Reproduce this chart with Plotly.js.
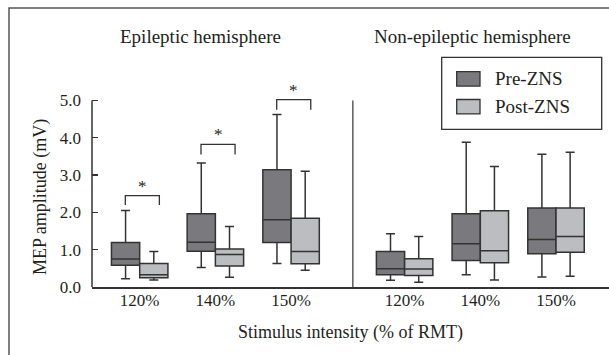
<!DOCTYPE html>
<html><head><meta charset="utf-8">
<script src="https://cdn.plot.ly/plotly-3.0.1.min.js"></script>
<style>html,body{margin:0;padding:0;background:#fff}#chart{width:609px;height:355px}</style>
</head><body><div id="chart"></div><script>
// ---- data ----
const hemispheres = ['Epileptic hemisphere', 'Non-epileptic hemisphere'];
const categories = ['120%', '140%', '150%'];
const seriesNames = ['Pre-ZNS', 'Post-ZNS'];
// order: epileptic 120,140,150 then non-epileptic 120,140,150
const preLower  = [0.22, 0.52, 0.63, 0.18, 0.33, 0.27];
const preQ1     = [0.58, 0.96, 1.19, 0.33, 0.71, 0.89];
const preMedian = [0.75, 1.20, 1.80, 0.49, 1.16, 1.27];
const preQ3     = [1.19, 1.96, 3.14, 0.95, 1.96, 2.12];
const preUpper  = [2.05, 3.32, 4.62, 1.43, 3.88, 3.56];
const postLower  = [0.19, 0.26, 0.45, 0.13, 0.19, 0.29];
const postQ1     = [0.25, 0.56, 0.62, 0.31, 0.65, 0.93];
const postMedian = [0.33, 0.87, 0.95, 0.48, 0.97, 1.35];
const postQ3     = [0.63, 1.02, 1.84, 0.76, 2.04, 2.12];
const postUpper  = [0.95, 1.62, 3.10, 1.35, 3.23, 3.61];
// significance brackets (epileptic hemisphere)
const sigCategories = ['120%', '140%', '150%'];
const sigTop    = [2.45, 3.82, 5.02];
const sigBottom = [2.20, 3.55, 4.75];
const sigLabels = ['*', '*', '*'];
const yTicks = [0, 1, 2, 3, 4, 5];

// ---- layout helpers ----
const pos = [];
const tickText = [];
hemispheres.forEach((h, hi) => categories.forEach((c, ci) => { pos.push(1 + ci + hi * 3.5); tickText.push(c); }));
const xr = [0.37, 7.2];
const yr = [0, 5.6];
const px = v => (v - xr[0]) / (xr[1] - xr[0]);
const py = v => (v - yr[0]) / (yr[1] - yr[0]);
const lineCol = '#333';
const txtCol = '#231f20';
const font = 'Liberation Serif, Times New Roman, serif';
const fills = ['#7a7a7e', '#bcbdc0'];

const mk = (name, lo, q1, med, q3, up, fill) => ({
  type: 'box', name, x: pos, lowerfence: lo, q1, median: med, q3, upperfence: up,
  fillcolor: fill, line: {color: lineCol, width: 1.5}, whiskerwidth: 0.32,
  hoverinfo: 'skip', showlegend: false
});
const data = [
  mk(seriesNames[0], preLower, preQ1, preMedian, preQ3, preUpper, fills[0]),
  mk(seriesNames[1], postLower, postQ1, postMedian, postQ3, postUpper, fills[1])
];

const shapes = [];
const annotations = [];
// outer frame
shapes.push({type: 'rect', xref: 'paper', yref: 'paper', x0: (9 - 92) / 517, x1: 1.2, y0: -0.6, y1: (287 - 8) / 209,
  line: {color: '#555', width: 1.5}, layer: 'below'});
// y axis line (0 to 5) and hemisphere divider
shapes.push({type: 'line', xref: 'paper', yref: 'paper', x0: 0, x1: 0, y0: 0, y1: py(5), line: {color: lineCol, width: 1.5}});
shapes.push({type: 'line', xref: 'paper', yref: 'paper', x0: px(3.816), x1: px(3.816), y0: 0, y1: py(5), line: {color: '#444', width: 1.3}});
// brackets
sigCategories.forEach((c, i) => {
  const xc = pos[categories.indexOf(c)];
  const x0 = xc - 0.19, x1 = xc + 0.26;
  shapes.push({type: 'path', xref: 'x', yref: 'y',
    path: `M ${x0},${sigBottom[i]} L ${x0},${sigTop[i]} L ${x1},${sigTop[i]} L ${x1},${sigBottom[i]}`,
    line: {color: lineCol, width: 1.3}});
  annotations.push({xref: 'x', yref: 'y', x: (x0 + x1) / 2, y: sigTop[i], text: sigLabels[i], showarrow: false,
    yanchor: 'bottom', yshift: -2, font: {family: font, size: 17, color: txtCol}});
});
// hemisphere headers
annotations.push({xref: 'paper', yref: 'paper', x: (200 - 92) / 517, y: (287 - 37) / 209, text: hemispheres[0], showarrow: false,
  xanchor: 'center', yanchor: 'middle', font: {family: font, size: 19, color: txtCol}});
annotations.push({xref: 'paper', yref: 'paper', x: (472.5 - 92) / 517, y: (287 - 37) / 209, text: hemispheres[1], showarrow: false,
  xanchor: 'center', yanchor: 'middle', font: {family: font, size: 19, color: txtCol}});
// custom legend
shapes.push({type: 'rect', xref: 'paper', yref: 'paper', x0: (441.7 - 92) / 517, x1: (601.7 - 92) / 517,
  y0: (287 - 129.3) / 209, y1: (287 - 57.3) / 209, line: {color: '#333', width: 1.3}, fillcolor: '#fff'});
const legY = [78.9, 106.7];
seriesNames.forEach((n, i) => {
  shapes.push({type: 'rect', xref: 'paper', yref: 'paper', x0: (456.7 - 92) / 517, x1: (480 - 92) / 517,
    y0: (287 - legY[i] - 7.2) / 209, y1: (287 - legY[i] + 7.2) / 209, line: {color: lineCol, width: 1.3}, fillcolor: fills[i]});
  annotations.push({xref: 'paper', yref: 'paper', x: (492.7 - 92) / 517, y: (287 - legY[i]) / 209, text: n, showarrow: false,
    xanchor: 'left', yanchor: 'middle', font: {family: font, size: 19, color: txtCol}});
});
// y axis title
annotations.push({xref: 'paper', yref: 'paper', x: (40 - 92) / 517, y: (287 - 197) / 209, text: 'MEP amplitude (mV)', textangle: -90,
  showarrow: false, xanchor: 'center', yanchor: 'middle', font: {family: font, size: 18, color: txtCol}});

const layout = {
  width: 609, height: 355,
  margin: {l: 92, r: 0, t: 78, b: 68},
  paper_bgcolor: '#fff', plot_bgcolor: 'rgba(0,0,0,0)',
  boxmode: 'group', boxgap: 0.254, boxgroupgap: 0,
  showlegend: false,
  font: {family: font, color: txtCol},
  xaxis: {range: xr, tickvals: pos, ticktext: tickText, ticks: '', showgrid: false, zeroline: false,
    showline: true, linecolor: lineCol, linewidth: 1.5, tickfont: {family: font, size: 17, color: txtCol},
    ticklabelstandoff: -3,
    title: {text: 'Stimulus intensity (% of RMT)', font: {family: font, size: 18, color: txtCol}, standoff: 16}},
  yaxis: {range: yr, tickvals: yTicks, tickformat: '.1f', ticks: 'inside', ticklen: 6, tickwidth: 1.2, tickcolor: lineCol,
    showgrid: false, zeroline: false, showline: false, ticklabelstandoff: 10,
    tickfont: {family: font, size: 17, color: txtCol}},
  shapes, annotations
};
Plotly.newPlot('chart', data, layout, {staticPlot: true, displayModeBar: false});
</script></body></html>
